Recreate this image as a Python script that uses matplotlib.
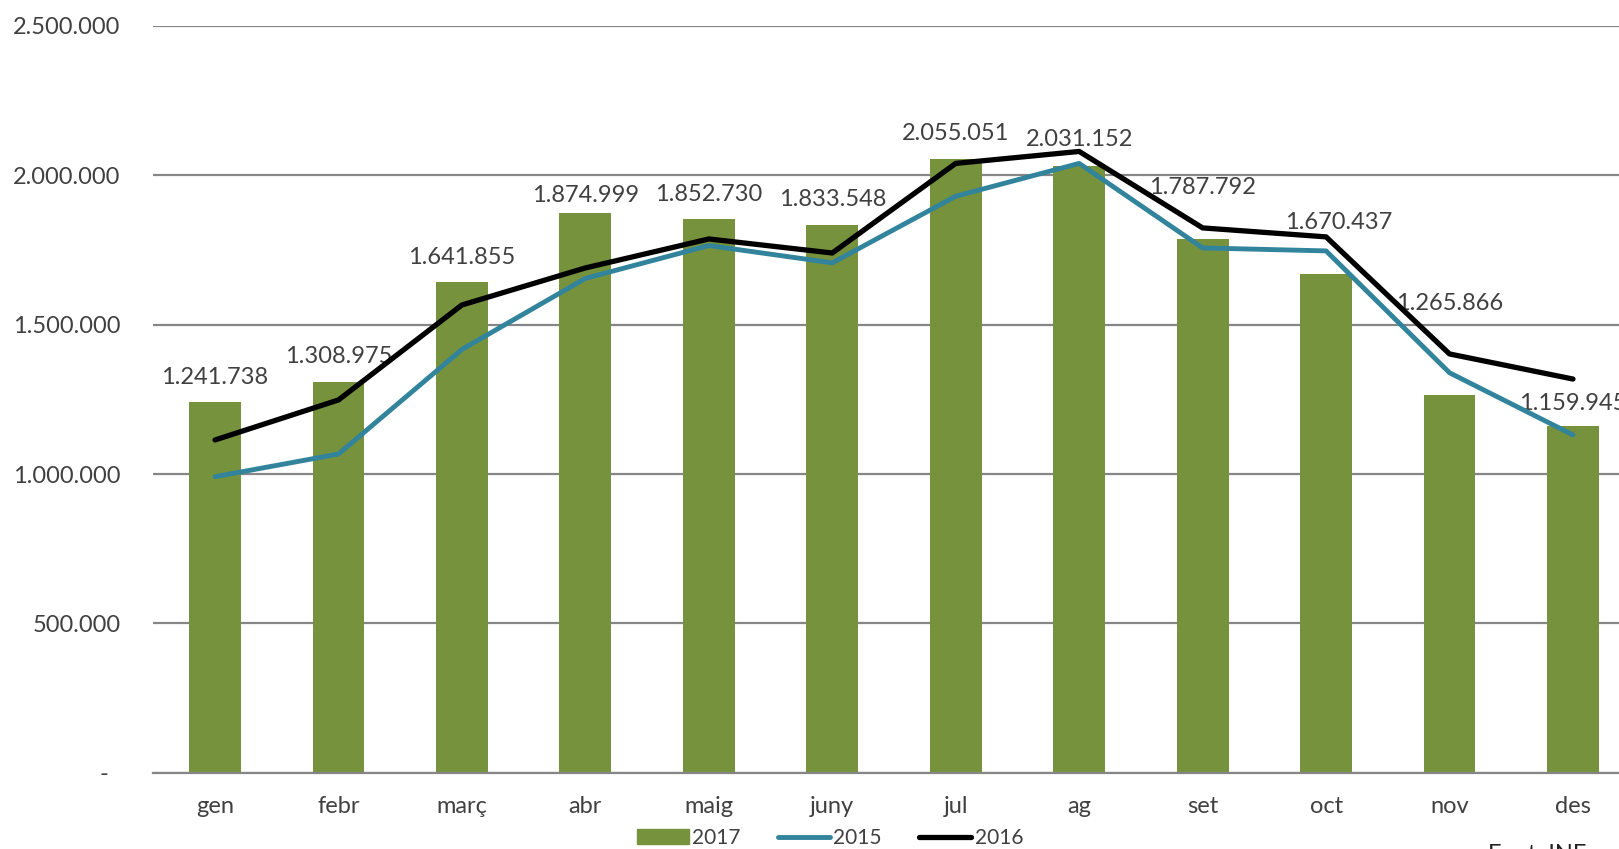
import matplotlib
matplotlib.use("Agg")
import matplotlib.pyplot as plt
from matplotlib.ticker import FuncFormatter
from matplotlib.patches import Patch
from matplotlib.lines import Line2D

months = ["gen", "febr", "març", "abr", "maig", "juny", "jul", "ag", "set", "oct", "nov", "des"]
v2017 = [1241738, 1308975, 1641855, 1874999, 1852730, 1833548, 2055051, 2031152, 1787792, 1670437, 1265866, 1159945]
v2015 = [991000, 1067000, 1417000, 1655000, 1765000, 1707000, 1930000, 2040000, 1757000, 1747000, 1339000, 1131000]
v2016 = [1114000, 1248000, 1566000, 1690000, 1787000, 1740000, 2040000, 2080000, 1824000, 1794000, 1402000, 1318000]
yticks = [0, 500000, 1000000, 1500000, 2000000, 2500000]

# label placement (pixels above bar top / horizontal shift), as in the original
label_dy_px = [18, 19, 18, 11, 18, 19, 19, 20, 45, 45, 85, 16]
label_dx_px = [0, 0, 0, 0, 0, 0, 0, 0, 0, 13, 0, 0]

FONT = ["Lato", "DejaVu Sans"]
plt.rcParams["font.family"] = FONT
TXT = "#404040"
GREEN = "#76923C"
TEAL = "#31849B"
GRID = "#868686"
FS = 17

W, H = 1619, 849
fig = plt.figure(figsize=(W / 100, H / 100), dpi=100)
left, right, top, bottom = 153.3, 1634.7, 26.0, 772.7
ax = fig.add_axes([left / W, 1 - bottom / H, (right - left) / W, (bottom - top) / H])

x = list(range(len(months)))
ax.bar(x, v2017, width=0.42, color=GREEN, zorder=2, label="2017")
ax.plot(x, v2015, color=TEAL, lw=3.5, zorder=4, solid_capstyle="round", label="2015")
ax.plot(x, v2016, color="black", lw=3.8, zorder=4, solid_capstyle="round", label="2016")

def fmt(v):
    return f"{int(round(v)):,}".replace(",", ".")

PX2PT = 72 / 100
for xi, v, dy, dx in zip(x, v2017, label_dy_px, label_dx_px):
    ax.annotate(fmt(v), (xi, v), xytext=(dx * PX2PT, dy * PX2PT), textcoords="offset points",
                ha="center", va="baseline", fontsize=FS, color=TXT, zorder=3)

ax.set_xlim(-0.5, len(months) - 0.5)
ax.set_ylim(0, 2500000)
ax.set_yticks(yticks)
ax.yaxis.set_major_formatter(FuncFormatter(lambda v, p: "-  " if v == 0 else fmt(v)))
ax.set_xticks(x)
ax.set_xticklabels(months)
ax.tick_params(axis="both", length=0, labelsize=FS, labelcolor=TXT)
ax.tick_params(axis="y", pad=23.5)
ax.tick_params(axis="x", pad=17)
ax.yaxis.grid(True, color=GRID, lw=1.6, zorder=0)
ax.set_axisbelow(True)
for s in ["top", "right", "left"]:
    ax.spines[s].set_visible(False)
ax.spines["bottom"].set_color(GRID)
ax.spines["bottom"].set_linewidth(1.6)

handles = [Patch(facecolor=GREEN, edgecolor=GREEN),
           Line2D([0], [0], color=TEAL, lw=3.5, solid_capstyle="round"),
           Line2D([0], [0], color="black", lw=3.8, solid_capstyle="round")]
fig.legend(handles, ["2017", "2015", "2016"], loc="center",
           bbox_to_anchor=(830 / W, 1 - 838 / H), ncol=3, frameon=False,
           fontsize=15, handlelength=2.5, handletextpad=0.15, columnspacing=1.8,
           borderpad=0, labelcolor=TXT)

fig.text(1488 / W, 1 - 844 / H, "Font: INE", ha="left", va="top", fontsize=FS, color="#222222")

fig.savefig("out.png", dpi=100)
